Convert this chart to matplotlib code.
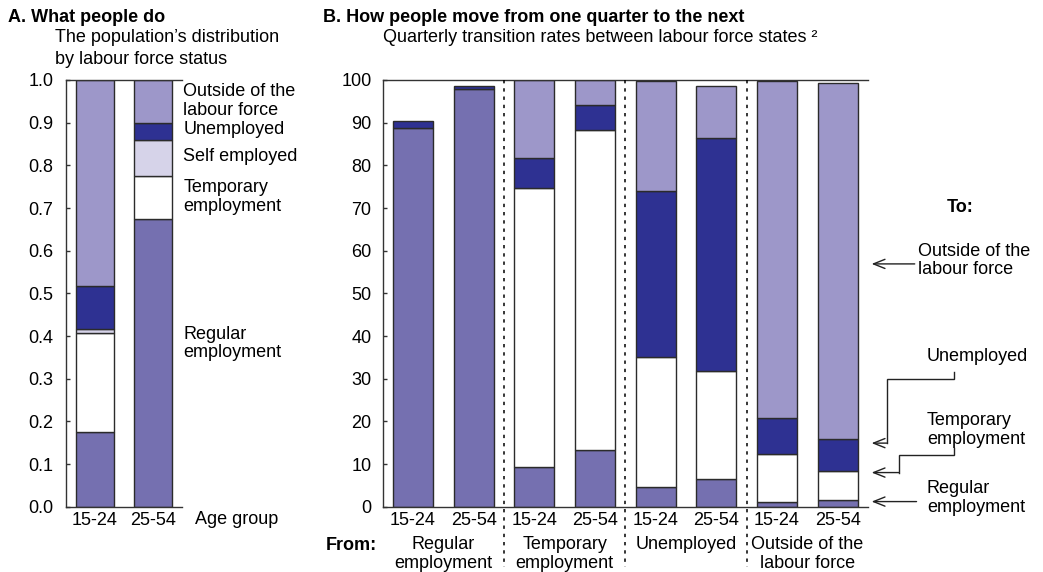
import numpy as np
import matplotlib
matplotlib.use("Agg")
import matplotlib.pyplot as plt
from matplotlib.transforms import blended_transform_factory

plt.rcParams["font.family"] = ["Liberation Sans", "DejaVu Sans"]

# ---- Panel A: population shares by labour force status ----
age_groups = ["15-24", "25-54"]
share_regular = [0.174, 0.674]
share_temporary = [0.233, 0.102]
share_self = [0.010, 0.083]
share_unemployed = [0.101, 0.040]
share_outside = [0.482, 0.101]

# ---- Panel B: quarterly transition rates (%), by origin state and age ----
from_states = ["Regular\nemployment", "Temporary\nemployment",
               "Unemployed", "Outside of the\nlabour force"]
bar_ages = ["15-24", "25-54"] * 4
to_regular = [88.8, 98.0, 9.3, 13.3, 4.6, 6.4, 1.2, 1.6]
to_temporary = [0.0, 0.0, 65.5, 74.9, 30.5, 25.4, 11.2, 6.8]
to_unemployed = [1.7, 0.5, 7.0, 5.9, 39.0, 54.7, 8.4, 7.5]
to_outside = [0.0, 0.0, 18.2, 5.9, 25.7, 12.0, 79.0, 83.4]

C_REG = "#7570b0"
C_TMP = "#ffffff"
C_SELF = "#d6d3e9"
C_UNE = "#2e3192"
C_OUT = "#9d97c9"
EDGE = "#2b2b2b"
SPINE = "#333333"

W, H = 1043, 572
fig = plt.figure(figsize=(W / 100, H / 100), dpi=100)


def fx(x):
    return x / W


def fy(y):
    return 1 - y / H


def style_axes(ax):
    ax.spines["right"].set_visible(False)
    for s in ("left", "bottom", "top"):
        ax.spines[s].set_color(SPINE)
        ax.spines[s].set_linewidth(1.0)
    ax.tick_params(axis="y", direction="in", length=3, width=1,
                   color=SPINE, labelsize=13)
    ax.tick_params(axis="x", length=0, labelsize=13, pad=4)


def stack(ax, x, layers, width):
    bottom = np.zeros(len(x))
    for vals, col in layers:
        vals = np.asarray(vals, dtype=float)
        keep = vals > 0
        ax.bar(np.asarray(x)[keep], vals[keep], width=width,
               bottom=bottom[keep], color=col, edgecolor=EDGE,
               linewidth=1.0, zorder=2)
        bottom += vals


LABEL_FS = 13

# ---------------- Panel A ----------------
axA = fig.add_axes([fx(66), 1 - 506.7 / H, fx(116), 426.7 / H])
xa = np.arange(len(age_groups))
stack(axA, xa, [(share_regular, C_REG), (share_temporary, C_TMP),
                (share_self, C_SELF), (share_unemployed, C_UNE),
                (share_outside, C_OUT)], width=0.655)
axA.set_xlim(-0.5, 1.5)
axA.set_ylim(0, 1.0)
axA.set_yticks(np.arange(0, 1.01, 0.1))
axA.set_yticklabels([f"{v:.1f}" for v in np.arange(0, 1.01, 0.1)])
axA.set_xticks(xa)
axA.set_xticklabels(age_groups)
style_axes(axA)
axA.tick_params(axis="y", pad=9)

lab_kw = dict(fontsize=LABEL_FS, ha="left", va="center", linespacing=1.12,
              clip_on=False)
axA.text(1.52, 0.951, "Outside of the\nlabour force", **lab_kw)
axA.text(1.52, 0.883, "Unemployed", **lab_kw)
axA.text(1.52, 0.820, "Self employed", **lab_kw)
axA.text(1.52, 0.726, "Temporary\nemployment", **lab_kw)
axA.text(1.52, 0.382, "Regular\nemployment", **lab_kw)
tA = blended_transform_factory(axA.transData, fig.transFigure)
axA.text(1.72, fy(519), "Age group", transform=tA, fontsize=13,
         ha="left", va="center")

# ---------------- Panel B ----------------
axB = fig.add_axes([fx(382.7), 1 - 506.7 / H, fx(485.3), 426.7 / H])
xb = np.arange(len(bar_ages))
stack(axB, xb, [(to_regular, C_REG), (to_temporary, C_TMP),
                (to_unemployed, C_UNE), (to_outside, C_OUT)], width=0.66)
axB.set_xlim(-0.5, 7.5)
axB.set_ylim(0, 100)
axB.set_yticks(np.arange(0, 101, 10))
axB.set_xticks(xb)
axB.set_xticklabels(bar_ages)
style_axes(axB)
axB.tick_params(axis="y", pad=8)

# dotted separators between origin states
tSep = blended_transform_factory(axB.transData, axB.transAxes)
for xs in (1.5, 3.5, 5.5):
    axB.plot([xs, xs], [1.0, -0.141], transform=tSep, color="black",
             lw=1.1, linestyle=(0, (2.2, 3.2)), clip_on=False, zorder=3)

# origin state labels under the age groups
tB = blended_transform_factory(axB.transData, fig.transFigure)
for i, name in enumerate(from_states):
    axB.text(2 * i + 0.5, fy(536), name, transform=tB, fontsize=LABEL_FS,
             ha="center", va="top", linespacing=1.12)
fig.text(fx(377), fy(545), "From:", fontsize=LABEL_FS, fontweight="bold",
         ha="right", va="center")

# destination key with arrows
fig.text(fx(947), fy(207), "To:", fontsize=LABEL_FS, fontweight="bold",
         ha="left", va="center")
akw = dict(arrowstyle="->,head_length=0.55,head_width=0.22",
           color="#222222", lw=1.0, shrinkA=0, shrinkB=0,
           mutation_scale=15)
line_kw = dict(color="#222222", lw=1.0, clip_on=False,
               solid_joinstyle="miter")

axB.text(8.32, 57.7, "Outside of the\nlabour force", **lab_kw)
axB.annotate("", xy=(7.56, 56.9), xytext=(8.27, 56.9),
             arrowprops=akw, annotation_clip=False)

axB.text(8.47, 35.1, "Unemployed", **lab_kw)
axB.plot([8.92, 8.92, 7.81, 7.81], [31.6, 29.9, 29.9, 14.9], **line_kw)
axB.annotate("", xy=(7.56, 14.9), xytext=(7.81, 14.9),
             arrowprops=akw, annotation_clip=False)

axB.text(8.47, 18.0, "Temporary\nemployment", **lab_kw)
axB.plot([8.92, 8.92, 8.01, 8.01], [13.8, 12.0, 12.0, 8.0], **line_kw)
axB.annotate("", xy=(7.56, 8.0), xytext=(8.01, 8.0),
             arrowprops=akw, annotation_clip=False)

axB.text(8.47, 2.0, "Regular\nemployment", **lab_kw)
axB.annotate("", xy=(7.56, 1.2), xytext=(8.30, 1.2),
             arrowprops=akw, annotation_clip=False)

# ---------------- Titles ----------------
fig.text(fx(8), fy(21.7), "A. What people do", fontsize=13,
         fontweight="bold", ha="left", va="baseline")
fig.text(fx(55), fy(42.5), "The population\u2019s distribution",
         fontsize=LABEL_FS, ha="left", va="baseline")
fig.text(fx(55), fy(63.5), "by labour force status",
         fontsize=LABEL_FS, ha="left", va="baseline")
fig.text(fx(322.7), fy(21.7),
         "B. How people move from one quarter to the next",
         fontsize=13, fontweight="bold", ha="left", va="baseline")
fig.text(fx(383), fy(42.5),
         "Quarterly transition rates between labour force states \u00b2",
         fontsize=LABEL_FS, ha="left", va="baseline")

fig.savefig("out.png", dpi=100)
